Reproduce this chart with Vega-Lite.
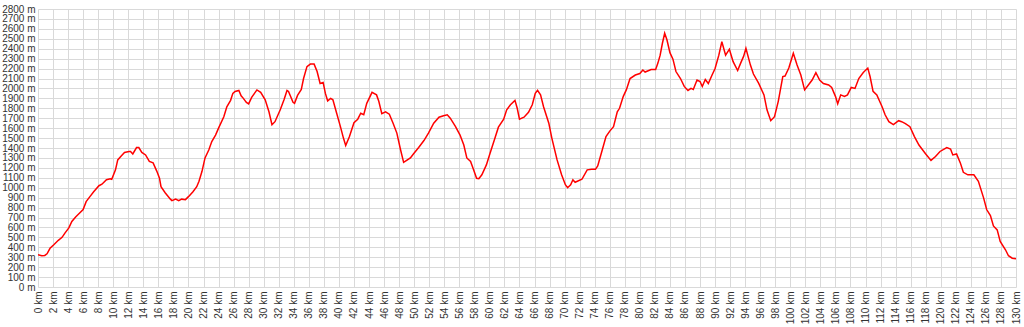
{
  "$schema": "https://vega.github.io/schema/vega-lite/v6.json",
  "width": 978,
  "height": 278,
  "autosize": {"type": "none"},
  "padding": {"left": 38, "top": 9, "right": 8, "bottom": 40},
  "background": "white",
  "config": {"view": {"stroke": null}},
  "data": {"values": [
    {"km": 0, "m": 325}, {"km": 0.5, "m": 315}, {"km": 0.9, "m": 318}, {"km": 1.2, "m": 335}, {"km": 1.6, "m": 390},
    {"km": 2.1, "m": 425}, {"km": 2.7, "m": 470}, {"km": 3.2, "m": 500}, {"km": 3.6, "m": 545}, {"km": 4.1, "m": 595},
    {"km": 4.5, "m": 660}, {"km": 5.0, "m": 705}, {"km": 5.4, "m": 735}, {"km": 6.0, "m": 780}, {"km": 6.4, "m": 860},
    {"km": 6.9, "m": 910}, {"km": 7.4, "m": 960}, {"km": 8.1, "m": 1020}, {"km": 8.5, "m": 1035}, {"km": 9.1, "m": 1080},
    {"km": 9.6, "m": 1090}, {"km": 9.8, "m": 1085}, {"km": 10.3, "m": 1180}, {"km": 10.6, "m": 1280}, {"km": 11.0, "m": 1315},
    {"km": 11.5, "m": 1355}, {"km": 12.1, "m": 1365}, {"km": 12.3, "m": 1365}, {"km": 12.6, "m": 1340}, {"km": 13.1, "m": 1405},
    {"km": 13.4, "m": 1405}, {"km": 13.8, "m": 1355}, {"km": 14.3, "m": 1330}, {"km": 14.8, "m": 1265}, {"km": 15.3, "m": 1250},
    {"km": 15.8, "m": 1165}, {"km": 16.15, "m": 1095}, {"km": 16.35, "m": 1010}, {"km": 16.9, "m": 950}, {"km": 17.6, "m": 885},
    {"km": 17.8, "m": 870}, {"km": 18.3, "m": 885}, {"km": 18.7, "m": 870}, {"km": 19.1, "m": 885}, {"km": 19.6, "m": 880},
    {"km": 20.0, "m": 910}, {"km": 20.6, "m": 960}, {"km": 21.1, "m": 1010}, {"km": 21.4, "m": 1065}, {"km": 21.8, "m": 1165},
    {"km": 22.2, "m": 1300}, {"km": 22.7, "m": 1380}, {"km": 23.1, "m": 1465}, {"km": 23.6, "m": 1530}, {"km": 24.0, "m": 1600},
    {"km": 24.7, "m": 1715}, {"km": 25.1, "m": 1815}, {"km": 25.6, "m": 1880}, {"km": 25.9, "m": 1950}, {"km": 26.2, "m": 1970},
    {"km": 26.7, "m": 1980}, {"km": 27.0, "m": 1925}, {"km": 27.3, "m": 1900}, {"km": 27.7, "m": 1860}, {"km": 28.0, "m": 1845},
    {"km": 28.4, "m": 1910}, {"km": 29.1, "m": 1985}, {"km": 29.6, "m": 1960}, {"km": 30.2, "m": 1885}, {"km": 30.7, "m": 1765},
    {"km": 31.1, "m": 1635}, {"km": 31.5, "m": 1665}, {"km": 32.2, "m": 1785}, {"km": 32.7, "m": 1885}, {"km": 33.1, "m": 1980},
    {"km": 33.3, "m": 1970}, {"km": 33.9, "m": 1860}, {"km": 34.1, "m": 1850}, {"km": 34.5, "m": 1930}, {"km": 35.0, "m": 1990},
    {"km": 35.3, "m": 2100}, {"km": 35.75, "m": 2220}, {"km": 36.2, "m": 2245}, {"km": 36.7, "m": 2245}, {"km": 37.1, "m": 2170},
    {"km": 37.5, "m": 2050}, {"km": 37.9, "m": 2060}, {"km": 38.2, "m": 1950}, {"km": 38.5, "m": 1875}, {"km": 38.9, "m": 1900},
    {"km": 39.2, "m": 1885}, {"km": 39.7, "m": 1750}, {"km": 40.2, "m": 1615}, {"km": 40.6, "m": 1500}, {"km": 40.9, "m": 1425},
    {"km": 41.4, "m": 1515}, {"km": 42.0, "m": 1655}, {"km": 42.5, "m": 1690}, {"km": 42.9, "m": 1750}, {"km": 43.3, "m": 1735},
    {"km": 43.7, "m": 1850}, {"km": 44.4, "m": 1960}, {"km": 45.0, "m": 1935}, {"km": 45.3, "m": 1870}, {"km": 45.7, "m": 1745},
    {"km": 46.2, "m": 1765}, {"km": 46.7, "m": 1740}, {"km": 47.2, "m": 1650}, {"km": 47.7, "m": 1550}, {"km": 48.2, "m": 1380},
    {"km": 48.6, "m": 1255}, {"km": 49.0, "m": 1275}, {"km": 49.5, "m": 1300}, {"km": 49.9, "m": 1340}, {"km": 50.6, "m": 1405},
    {"km": 51.3, "m": 1475}, {"km": 51.9, "m": 1550}, {"km": 52.6, "m": 1650}, {"km": 53.3, "m": 1710}, {"km": 53.9, "m": 1725},
    {"km": 54.4, "m": 1735}, {"km": 54.8, "m": 1700}, {"km": 55.5, "m": 1615}, {"km": 56.1, "m": 1530}, {"km": 56.6, "m": 1430},
    {"km": 57.0, "m": 1300}, {"km": 57.5, "m": 1265}, {"km": 57.9, "m": 1180}, {"km": 58.3, "m": 1095}, {"km": 58.6, "m": 1090},
    {"km": 59.0, "m": 1130}, {"km": 59.6, "m": 1230}, {"km": 60.1, "m": 1350}, {"km": 60.7, "m": 1490}, {"km": 61.2, "m": 1610},
    {"km": 61.9, "m": 1690}, {"km": 62.3, "m": 1785}, {"km": 62.8, "m": 1835}, {"km": 63.4, "m": 1880}, {"km": 63.7, "m": 1800},
    {"km": 64.0, "m": 1690}, {"km": 64.6, "m": 1710}, {"km": 65.2, "m": 1760}, {"km": 65.7, "m": 1835}, {"km": 66.1, "m": 1950},
    {"km": 66.4, "m": 1980}, {"km": 66.8, "m": 1935}, {"km": 67.2, "m": 1815}, {"km": 67.9, "m": 1650}, {"km": 68.3, "m": 1500},
    {"km": 69.0, "m": 1280}, {"km": 69.6, "m": 1130}, {"km": 70.1, "m": 1030}, {"km": 70.4, "m": 1000}, {"km": 70.8, "m": 1030},
    {"km": 71.1, "m": 1080}, {"km": 71.4, "m": 1055}, {"km": 72.3, "m": 1085}, {"km": 73.0, "m": 1180}, {"km": 73.6, "m": 1185},
    {"km": 74.1, "m": 1185}, {"km": 74.4, "m": 1220}, {"km": 75.0, "m": 1380}, {"km": 75.5, "m": 1515}, {"km": 76.0, "m": 1570},
    {"km": 76.5, "m": 1615}, {"km": 77.0, "m": 1765}, {"km": 77.3, "m": 1800}, {"km": 77.8, "m": 1920}, {"km": 78.2, "m": 1985},
    {"km": 78.7, "m": 2100}, {"km": 79.4, "m": 2135}, {"km": 80.0, "m": 2150}, {"km": 80.4, "m": 2185}, {"km": 80.7, "m": 2165},
    {"km": 81.5, "m": 2190}, {"km": 82.1, "m": 2190}, {"km": 82.4, "m": 2255}, {"km": 82.7, "m": 2335}, {"km": 83.0, "m": 2455},
    {"km": 83.3, "m": 2555}, {"km": 83.6, "m": 2490}, {"km": 84.0, "m": 2360}, {"km": 84.4, "m": 2295}, {"km": 84.8, "m": 2170},
    {"km": 85.4, "m": 2100}, {"km": 85.9, "m": 2020}, {"km": 86.4, "m": 1980}, {"km": 86.8, "m": 2000}, {"km": 87.1, "m": 1990},
    {"km": 87.6, "m": 2085}, {"km": 88.0, "m": 2070}, {"km": 88.3, "m": 2020}, {"km": 88.7, "m": 2090}, {"km": 89.1, "m": 2050},
    {"km": 89.6, "m": 2135}, {"km": 90.0, "m": 2200}, {"km": 90.5, "m": 2335}, {"km": 90.9, "m": 2470}, {"km": 91.4, "m": 2335},
    {"km": 91.9, "m": 2395}, {"km": 92.4, "m": 2270}, {"km": 93.0, "m": 2180}, {"km": 93.4, "m": 2255}, {"km": 93.8, "m": 2325},
    {"km": 94.1, "m": 2405}, {"km": 94.7, "m": 2235}, {"km": 95.1, "m": 2145}, {"km": 95.8, "m": 2050}, {"km": 96.5, "m": 1935},
    {"km": 96.9, "m": 1785}, {"km": 97.4, "m": 1675}, {"km": 97.9, "m": 1715}, {"km": 98.4, "m": 1870}, {"km": 99.0, "m": 2120},
    {"km": 99.3, "m": 2125}, {"km": 99.8, "m": 2205}, {"km": 100.4, "m": 2355}, {"km": 100.9, "m": 2235}, {"km": 101.4, "m": 2135},
    {"km": 101.9, "m": 1985}, {"km": 102.4, "m": 2035}, {"km": 102.9, "m": 2085}, {"km": 103.4, "m": 2160}, {"km": 103.9, "m": 2085},
    {"km": 104.4, "m": 2050}, {"km": 105.1, "m": 2035}, {"km": 105.5, "m": 2010}, {"km": 106.0, "m": 1920}, {"km": 106.3, "m": 1845},
    {"km": 106.7, "m": 1935}, {"km": 107.2, "m": 1920}, {"km": 107.6, "m": 1935}, {"km": 108.1, "m": 2010}, {"km": 108.6, "m": 2000},
    {"km": 109.1, "m": 2100}, {"km": 109.7, "m": 2160}, {"km": 110.3, "m": 2205}, {"km": 110.6, "m": 2120}, {"km": 111.0, "m": 1970},
    {"km": 111.5, "m": 1935}, {"km": 112.2, "m": 1815}, {"km": 112.6, "m": 1735}, {"km": 113.1, "m": 1665}, {"km": 113.7, "m": 1635},
    {"km": 114.4, "m": 1675}, {"km": 114.8, "m": 1665}, {"km": 115.3, "m": 1645}, {"km": 115.9, "m": 1615}, {"km": 116.5, "m": 1515},
    {"km": 117.1, "m": 1430}, {"km": 118.0, "m": 1340}, {"km": 118.7, "m": 1275}, {"km": 119.3, "m": 1315}, {"km": 119.9, "m": 1365},
    {"km": 120.8, "m": 1405}, {"km": 121.3, "m": 1390}, {"km": 121.6, "m": 1330}, {"km": 122.1, "m": 1340}, {"km": 122.6, "m": 1250},
    {"km": 123.0, "m": 1155}, {"km": 123.6, "m": 1130}, {"km": 124.4, "m": 1130}, {"km": 125.0, "m": 1065}, {"km": 125.7, "m": 895},
    {"km": 126.1, "m": 780}, {"km": 126.6, "m": 720}, {"km": 127.0, "m": 615}, {"km": 127.5, "m": 575}, {"km": 127.9, "m": 460},
    {"km": 128.6, "m": 375}, {"km": 129.0, "m": 315}, {"km": 129.5, "m": 290}, {"km": 130.0, "m": 285}
  ]},
  "mark": {"type": "line", "color": "#ff0000", "strokeWidth": 1.5, "clip": true},
  "encoding": {
    "x": {
      "field": "km", "type": "quantitative",
      "scale": {"domain": [0, 130], "nice": false, "zero": false},
      "axis": {
        "title": null, "values": [0,2,4,6,8,10,12,14,16,18,20,22,24,26,28,30,32,34,36,38,40,42,44,46,48,50,52,54,56,58,60,62,64,66,68,70,72,74,76,78,80,82,84,86,88,90,92,94,96,98,100,102,104,106,108,110,112,114,116,118,120,122,124,126,128,130],
        "labelExpr": "datum.value + ' km'", "labelAngle": -90, "labelPadding": 4,
        "labelFont": "Liberation Sans", "labelFontSize": 10, "labelColor": "#333333",
        "labelOverlap": false, "labelFlush": false, "labelBound": false,
        "domain": false, "ticks": false, "grid": true, "gridColor": "#d9d9d9", "gridWidth": 1
      }
    },
    "y": {
      "field": "m", "type": "quantitative",
      "scale": {"domain": [0, 2800], "nice": false},
      "axis": {
        "title": null, "values": [0,100,200,300,400,500,600,700,800,900,1000,1100,1200,1300,1400,1500,1600,1700,1800,1900,2000,2100,2200,2300,2400,2500,2600,2700,2800],
        "labelExpr": "datum.value + ' m'", "labelPadding": 3,
        "labelFont": "Liberation Sans", "labelFontSize": 10, "labelColor": "#333333",
        "labelOverlap": false, "labelFlush": false, "labelBound": false,
        "domain": false, "ticks": false, "grid": true, "gridColor": "#d9d9d9", "gridWidth": 1
      }
    }
  }
}
